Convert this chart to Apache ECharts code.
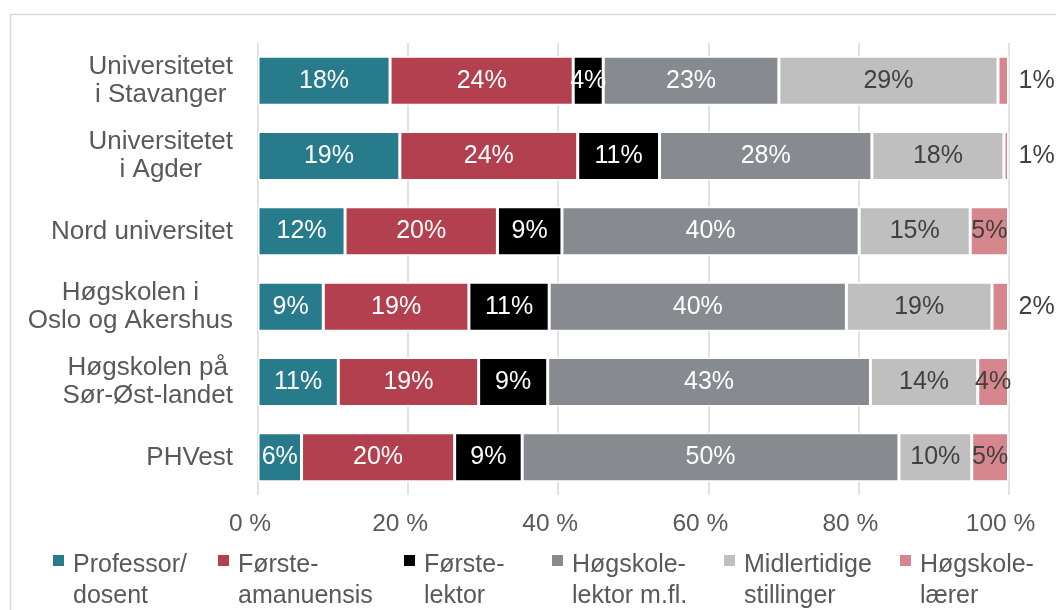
<!DOCTYPE html>
<html>
<head>
<meta charset="utf-8">
<script src="https://cdn.jsdelivr.net/npm/echarts@6/dist/echarts.min.js"></script>
<style>
    html, body { margin: 0; padding: 0; background: #fff; }
    #chart { width: 1056px; height: 610px; }
</style>
</head>
<body>
<div id="chart"></div>
<script>
// Institutions, top to bottom
const institutions = [
    'Universitetet\ni Stavanger',
    'Universitetet\ni Agder',
    'Nord universitet',
    'Høgskolen i\nOslo og Akershus',
    'Høgskolen på\nSør-Øst-landet',
    'PHVest'
];

// Share of staff by position (percent)
const professor = [17.6, 18.9, 11.6, 8.7, 10.7, 5.8];
const forsteamanuensis = [24.4, 23.7, 20.3, 19.4, 18.7, 20.4];
const forstelektor = [4.0, 10.9, 8.6, 10.7, 9.2, 9.0];
const hogskolelektor = [23.4, 28.3, 39.6, 39.6, 43.0, 50.2];
const midlertidige = [29.2, 17.6, 14.8, 19.4, 14.3, 9.7];
const hogskolelaerer = [1.4, 0.6, 5.1, 2.2, 4.1, 4.9];

const seriesNames = [
    'Professor/\ndosent',
    'Første-\namanuensis',
    'Første-\nlektor',
    'Høgskole-\nlektor m.fl.',
    'Midlertidige\nstillinger',
    'Høgskole-\nlærer'
];

const xTicks = [0, 20, 40, 60, 80, 100];

const FONT = 'Liberation Sans, Arial, sans-serif';
const textGrey = '#595959';
const colors = ['#277b8b', '#b2404e', '#000000', '#878b8f', '#bfbfbf', '#d6878d'];
const labelColors = ['#fff', '#fff', '#fff', '#fff', '#404040', '#404040'];
const legendX = [53, 218, 404, 552, 724, 900];

let echartElem = document.getElementById('chart');
let chart = echarts.init(echartElem);

function makeSeries(idx, values) {
    return {
        name: seriesNames[idx],
        type: 'bar',
        stack: 'total',
        barWidth: '65%',
        itemStyle: {
            color: colors[idx],
            borderColor: '#fff',
            borderWidth: 1.5
        },
        label: {
            show: true,
            position: 'inside',
            color: labelColors[idx],
            fontSize: 25,
            fontFamily: FONT,
            formatter: p => Math.round(p.value) + '%'
        },
        data: values.map(v => {
            // small last segments get their label outside the bar
            if (idx === 5 && v < 3) {
                return { value: v, label: { position: 'right', distance: 10 } };
            }
            return v;
        })
    };
}

// square marker sitting next to the first line of a two-line legend label
const legendIcon = 'path://M0,0L11,0L11,11L0,11Z M0,52';

let legends = seriesNames.map((name, i) => ({
    data: [name],
    left: legendX[i],
    top: 550,
    padding: 0,
    itemWidth: 11,
    itemHeight: 52,
    icon: legendIcon,
    selectedMode: false,
    itemStyle: { borderWidth: 0 },
    textStyle: {
        color: textGrey,
        fontSize: 25,
        fontFamily: FONT,
        lineHeight: 31,
        padding: [0, 0, 0, 4]
    }
}));

chart.setOption({
    animation: false,
    color: colors,
    textStyle: { fontFamily: FONT },
    graphic: [{
        type: 'rect',
        shape: { x: 10.5, y: 14.5, width: 1100, height: 700 },
        style: { fill: 'none', stroke: '#d9d9d9', lineWidth: 1.5 },
        silent: true
    }],
    legend: legends,
    grid: {
        left: 258,
        right: 47.5,
        top: 43,
        bottom: 115,
        outerBoundsMode: 'none'
    },
    xAxis: {
        type: 'value',
        min: xTicks[0],
        max: xTicks[xTicks.length - 1],
        interval: xTicks[1] - xTicks[0],
        axisLine: { show: false },
        axisTick: { show: false },
        splitLine: { lineStyle: { color: '#d9d9d9', width: 1.5 } },
        axisLabel: {
            margin: 17,
            color: textGrey,
            fontSize: 24.5,
            fontFamily: FONT,
            padding: [0, 16, 0, 0],
            formatter: v => v + ' %'
        }
    },
    yAxis: {
        type: 'category',
        inverse: true,
        data: institutions,
        axisLine: { show: false },
        axisTick: { show: false },
        axisLabel: {
            margin: 25,
            color: textGrey,
            fontSize: 26,
            fontFamily: FONT,
            lineHeight: 28,
            formatter: v => v.split('\n').map(s => '{c|' + s + '}').join('\n'),
            rich: {
                c: {
                    align: 'center',
                    color: textGrey,
                    fontSize: 26,
                    fontFamily: FONT,
                    lineHeight: 28
                }
            }
        }
    },
    series: [
        makeSeries(0, professor),
        makeSeries(1, forsteamanuensis),
        makeSeries(2, forstelektor),
        makeSeries(3, hogskolelektor),
        makeSeries(4, midlertidige),
        makeSeries(5, hogskolelaerer)
    ]
});

window.addEventListener('resize', function() {
    setTimeout(() => {
        chart.resize();
    }, 500);
});
</script>
</body>
</html>
